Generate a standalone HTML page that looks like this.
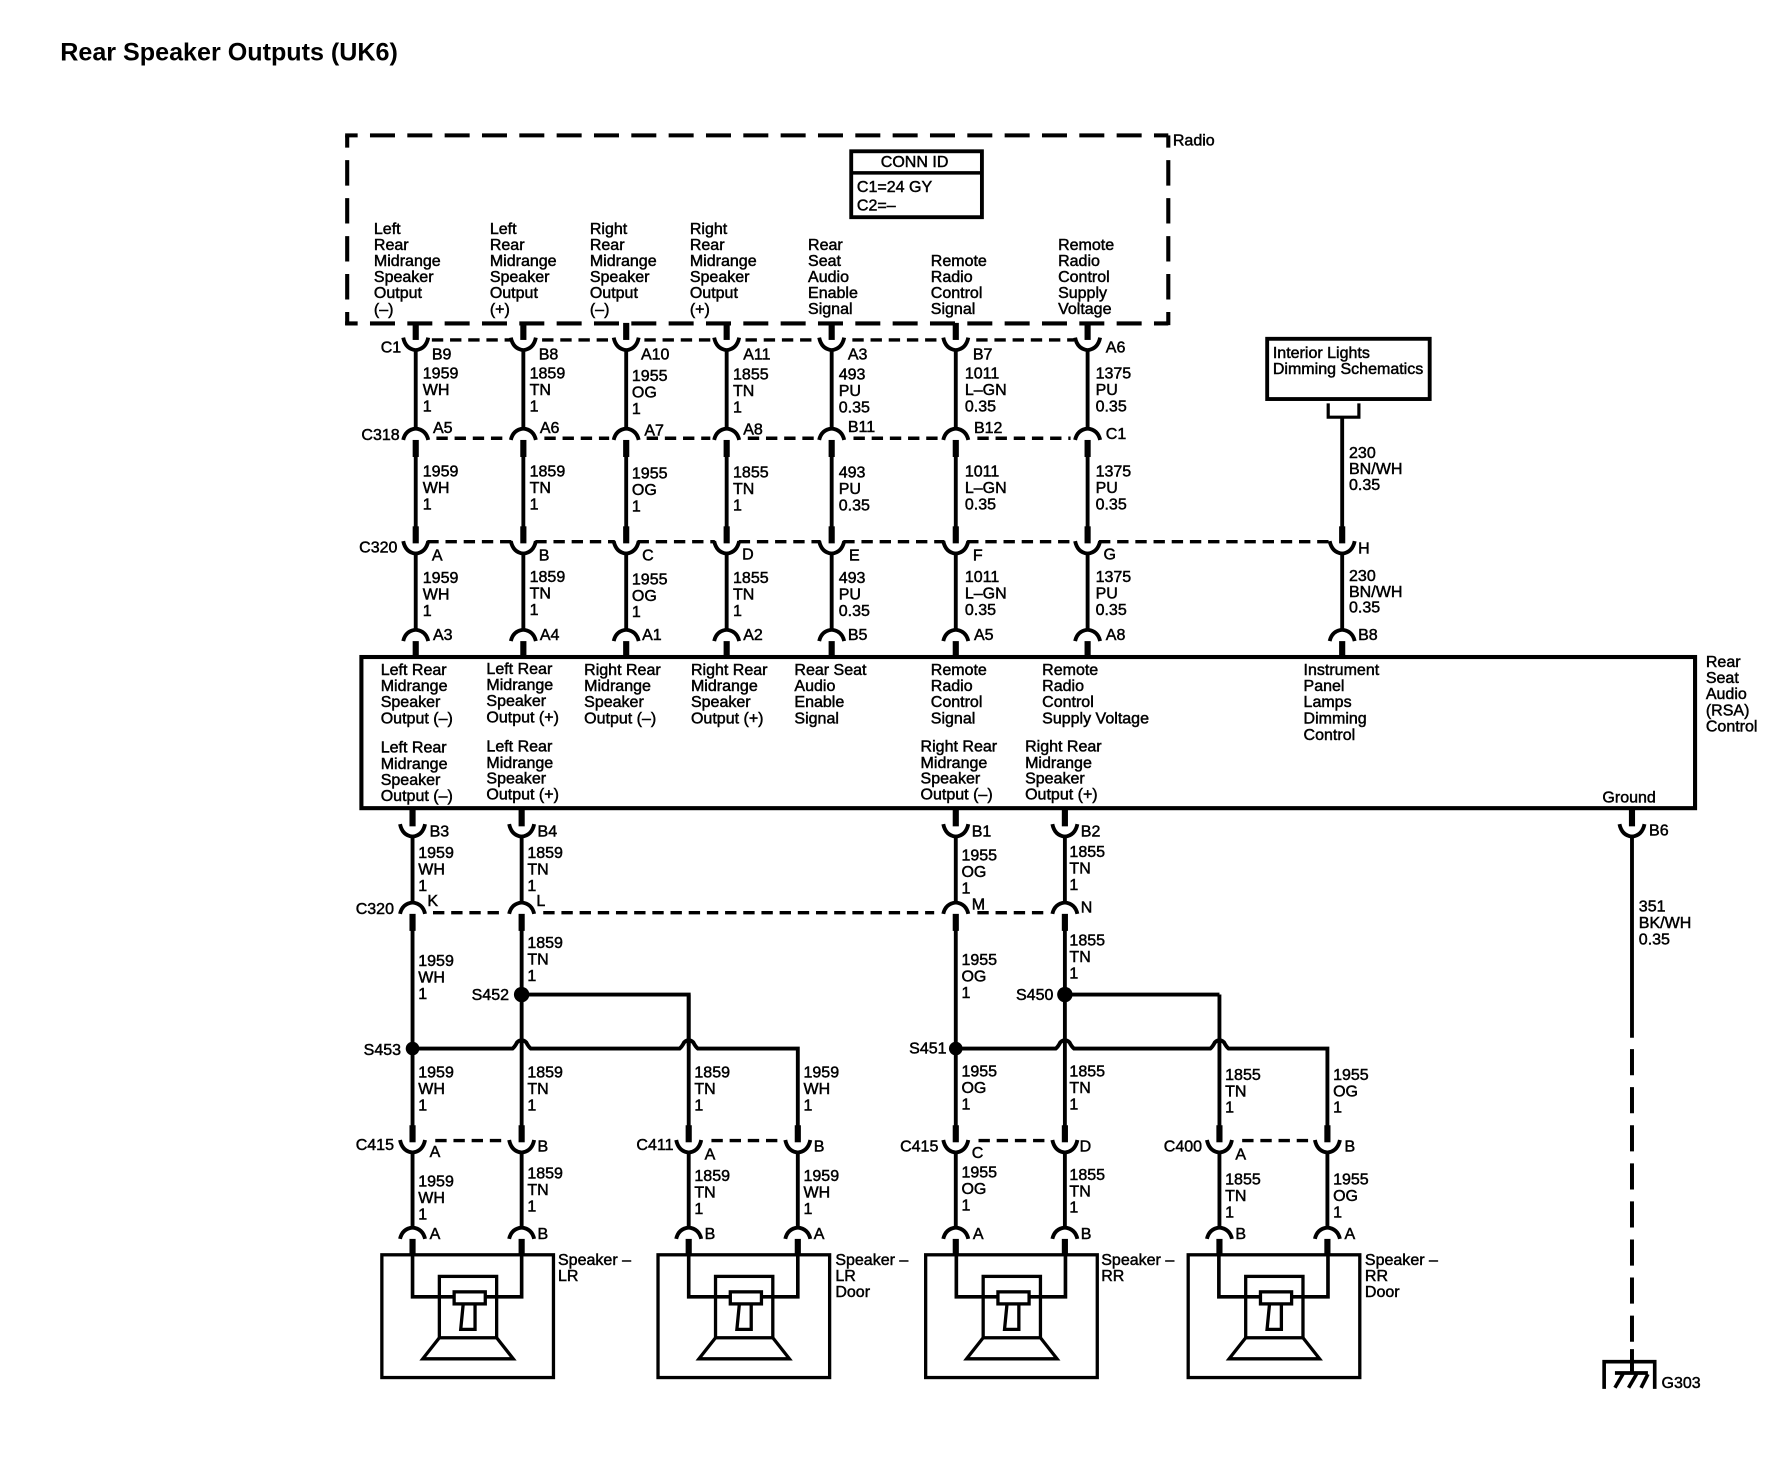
<!DOCTYPE html>
<html><head><meta charset="utf-8"><title>Rear Speaker Outputs (UK6)</title>
<style>
html,body{margin:0;padding:0;background:#fff;width:1782px;height:1472px;overflow:hidden}
svg{display:block}
text{font-family:"Liberation Sans",sans-serif;font-size:14.1px;fill:#000;stroke:#000;stroke-width:.42}
.w{fill:none;stroke:#000;stroke-width:3.4}
.d{fill:none;stroke:#000;stroke-width:3;stroke-dasharray:10 6}
.l{fill:none;stroke:#000;stroke-width:3.5;stroke-dasharray:23 10.5}
.r{fill:none;stroke:#000;stroke-width:3.6;stroke-dasharray:22 10.85;stroke-dashoffset:11}
.v{fill:none;stroke:#000;stroke-width:3.6;stroke-dasharray:22.4 11;stroke-dashoffset:11.6}
</style></head><body>
<svg width="1782" height="1472" viewBox="0 0 1568 1295" xmlns="http://www.w3.org/2000/svg">
<defs>
<g id="c"><rect x="-2.7" y="-14" width="5.4" height="15"/><path d="M-11,-1 Q-9,9 0,10 Q9,9 11,-1" fill="none" stroke="#000" stroke-width="3.4"/></g>
<g id="u"><path d="M-11,1 Q-9,-8 0,-9 Q9,-8 11,1" fill="none" stroke="#000" stroke-width="3.4"/><rect x="-2.7" y="1" width="5.4" height="15"/></g>
<g id="s" fill="none" stroke="#000" stroke-width="2.9">
<rect x="0" y="0" width="151" height="108"/>
<path d="M27,0 V37 H63.6 M123,0 V37 H91" stroke-width="3.2"/>
<rect x="50.6" y="19" width="50.4" height="54"/>
<rect x="63.6" y="32.6" width="27.4" height="10.6"/>
<path d="M71.6,43 L69.4,65.6 H82 V43"/>
<path d="M50.6,73 L36,91.5 H115.6 L101,73"/>
</g>
</defs>

<text x="53" y="53" style="font-size:22.1px;font-weight:bold;stroke-width:0">Rear Speaker Outputs (UK6)</text>

<!-- Radio -->
<path class="r" d="M303.7,119 H1028"/>
<path class="r" d="M303.7,284.5 H1028"/>
<path class="v" d="M305.5,119 V286"/>
<path class="v" d="M1028,119 V286"/>
<text x="1032" y="128">Radio</text>
<rect x="749" y="133" width="115" height="58" fill="none" stroke="#000" stroke-width="3.4"/>
<path d="M749,152 H864" stroke="#000" stroke-width="3"/>
<text x="775" y="147">CONN ID</text>
<text x="754" y="169">C1=24 GY</text>
<text x="754" y="185">C2=–</text>

<text y="206"><tspan x="329">Left</tspan><tspan x="329" dy="14">Rear</tspan><tspan x="329" dy="14">Midrange</tspan><tspan x="329" dy="14">Speaker</tspan><tspan x="329" dy="14">Output</tspan><tspan x="329" dy="14.5">(–)</tspan></text>
<text y="206"><tspan x="431">Left</tspan><tspan x="431" dy="14">Rear</tspan><tspan x="431" dy="14">Midrange</tspan><tspan x="431" dy="14">Speaker</tspan><tspan x="431" dy="14">Output</tspan><tspan x="431" dy="14.5">(+)</tspan></text>
<text y="206"><tspan x="519">Right</tspan><tspan x="519" dy="14">Rear</tspan><tspan x="519" dy="14">Midrange</tspan><tspan x="519" dy="14">Speaker</tspan><tspan x="519" dy="14">Output</tspan><tspan x="519" dy="14.5">(–)</tspan></text>
<text y="206"><tspan x="607">Right</tspan><tspan x="607" dy="14">Rear</tspan><tspan x="607" dy="14">Midrange</tspan><tspan x="607" dy="14">Speaker</tspan><tspan x="607" dy="14">Output</tspan><tspan x="607" dy="14.5">(+)</tspan></text>
<text y="220"><tspan x="711">Rear</tspan><tspan x="711" dy="14">Seat</tspan><tspan x="711" dy="14">Audio</tspan><tspan x="711" dy="14">Enable</tspan><tspan x="711" dy="14">Signal</tspan></text>
<text y="234"><tspan x="819">Remote</tspan><tspan x="819" dy="14">Radio</tspan><tspan x="819" dy="14">Control</tspan><tspan x="819" dy="14">Signal</tspan></text>
<text y="220"><tspan x="931">Remote</tspan><tspan x="931" dy="14">Radio</tspan><tspan x="931" dy="14">Control</tspan><tspan x="931" dy="14">Supply</tspan><tspan x="931" dy="14">Voltage</tspan></text>

<!-- Interior box -->
<rect x="1115" y="298" width="143" height="53" fill="none" stroke="#000" stroke-width="3.4"/>
<text y="315"><tspan x="1120">Interior Lights</tspan><tspan x="1120" dy="14">Dimming Schematics</tspan></text>
<path d="M1168.7,354.8 V367 H1195.7 V354.8" fill="none" stroke="#000" stroke-width="2.8"/>

<!-- dashed connector lines -->
<path class="d" d="M380,299 H449 M477,299 H539 M567,299 H627 M656,299 H720 M750,299 H829 M859,299 H945
M384,385.5 H446 M479,385.5 H536 M569,385.5 H625 M658,385.5 H717 M751,385.5 H826 M860,385.5 H942
M376,476.5 H450 M471,476.5 H541 M561,476.5 H629 M650,476.5 H722 M742,476.5 H831 M851,476.5 H947 M967,476.5 H1171
M381,803 H440 M478,803 H822 M860,803 H918
M383,1003.5 H445 M626,1003.5 H688 M861,1003.5 H923 M1093,1003.5 H1154"/>

<!-- thin wires -->
<path class="w" d="M365.8,307 V378 M365.8,400 V465 M365.8,486 V555
M460.5,307 V378 M460.5,400 V465 M460.5,486 V555
M551,307 V378 M551,400 V465 M551,486 V555
M639.4,307 V378 M639.4,400 V465 M639.4,486 V555
M731.8,307 V378 M731.8,400 V465 M731.8,486 V555
M841,307 V378 M841,400 V465 M841,486 V555
M957,307 V378 M957,400 V465 M957,486 V555
M1181,367 V465 M1181,486 V555
M363,735 V795 M363,815 V992 M363,1013 V1081
M459,735 V795 M459,815 V992 M459,1013 V1081
M841,735 V795 M841,815 V992 M841,1013 V1081
M937,735 V795 M937,815 V992 M937,1013 V1081
M606,875 V992 M606,1013 V1081
M702,1013 V1081
M1073,875 V992 M1073,1013 V1081
M1168,1013 V1081
M1436,735 V913"/>
<path class="w" d="M459,875 H606 V920 M937,875 H1073"/>
<path class="w" d="M363,922.5 H451 Q453,921 455,917 Q459,913.5 463,917 Q465,921 467,922.5 H598 Q600,921 602,917 Q606,913.5 610,917 Q612,921 614,922.5 H702 V992"/>
<path class="w" d="M841,922.5 H929 Q931,921 933,917 Q937,913.5 941,917 Q943,921 945,922.5 H1065 Q1067,921 1069,917 Q1073,913.5 1077,917 Q1079,921 1081,922.5 H1168 V992"/>
<circle cx="459" cy="875" r="6.8"/><circle cx="937" cy="875" r="6.8"/><circle cx="363" cy="922.5" r="6"/><circle cx="841" cy="922.5" r="6"/>

<!-- connectors -->
<use href="#c" x="365.8" y="298"/><use href="#c" x="460.5" y="298"/><use href="#c" x="551" y="298"/><use href="#c" x="639.4" y="298"/><use href="#c" x="731.8" y="298"/><use href="#c" x="841" y="298"/><use href="#c" x="957" y="298"/>
<use href="#u" x="365.8" y="386"/><use href="#u" x="460.5" y="386"/><use href="#u" x="551" y="386"/><use href="#u" x="639.4" y="386"/><use href="#u" x="731.8" y="386"/><use href="#u" x="841" y="386"/><use href="#u" x="957" y="386"/>
<use href="#c" x="365.8" y="477"/><use href="#c" x="460.5" y="477"/><use href="#c" x="551" y="477"/><use href="#c" x="639.4" y="477"/><use href="#c" x="731.8" y="477"/><use href="#c" x="841" y="477"/><use href="#c" x="957" y="477"/><use href="#c" x="1181" y="477"/>
<use href="#u" x="365.8" y="563"/><use href="#u" x="460.5" y="563"/><use href="#u" x="551" y="563"/><use href="#u" x="639.4" y="563"/><use href="#u" x="731.8" y="563"/><use href="#u" x="841" y="563"/><use href="#u" x="957" y="563"/><use href="#u" x="1181" y="563"/>
<use href="#c" x="363" y="726"/><use href="#c" x="459" y="726"/><use href="#c" x="841" y="726"/><use href="#c" x="937" y="726"/><use href="#c" x="1436" y="726"/>
<use href="#u" x="363" y="803"/><use href="#u" x="459" y="803"/><use href="#u" x="841" y="803"/><use href="#u" x="937" y="803"/>
<use href="#c" x="363" y="1004"/><use href="#c" x="459" y="1004"/><use href="#c" x="606" y="1004"/><use href="#c" x="702" y="1004"/><use href="#c" x="841" y="1004"/><use href="#c" x="937" y="1004"/><use href="#c" x="1073" y="1004"/><use href="#c" x="1168" y="1004"/>
<use href="#u" x="363" y="1089"/><use href="#u" x="459" y="1089"/><use href="#u" x="606" y="1089"/><use href="#u" x="702" y="1089"/><use href="#u" x="841" y="1089"/><use href="#u" x="937" y="1089"/><use href="#u" x="1073" y="1089"/><use href="#u" x="1168" y="1089"/>

<!-- RSA control box -->
<rect x="318" y="578" width="1173.5" height="133" fill="#fff" stroke="#000" stroke-width="3.6"/>
<text y="594"><tspan x="335">Left Rear</tspan><tspan x="335" dy="14">Midrange</tspan><tspan x="335" dy="14">Speaker</tspan><tspan x="335" dy="14.5">Output (–)</tspan></text>
<text y="593"><tspan x="428">Left Rear</tspan><tspan x="428" dy="14">Midrange</tspan><tspan x="428" dy="14">Speaker</tspan><tspan x="428" dy="14.5">Output (+)</tspan></text>
<text y="594"><tspan x="514">Right Rear</tspan><tspan x="514" dy="14">Midrange</tspan><tspan x="514" dy="14">Speaker</tspan><tspan x="514" dy="14.5">Output (–)</tspan></text>
<text y="594"><tspan x="608">Right Rear</tspan><tspan x="608" dy="14">Midrange</tspan><tspan x="608" dy="14">Speaker</tspan><tspan x="608" dy="14.5">Output (+)</tspan></text>
<text y="594"><tspan x="699">Rear Seat</tspan><tspan x="699" dy="14">Audio</tspan><tspan x="699" dy="14">Enable</tspan><tspan x="699" dy="14.5">Signal</tspan></text>
<text y="594"><tspan x="819">Remote</tspan><tspan x="819" dy="14">Radio</tspan><tspan x="819" dy="14">Control</tspan><tspan x="819" dy="14.5">Signal</tspan></text>
<text y="594"><tspan x="917">Remote</tspan><tspan x="917" dy="14">Radio</tspan><tspan x="917" dy="14">Control</tspan><tspan x="917" dy="14.5">Supply Voltage</tspan></text>
<text y="594"><tspan x="1147">Instrument</tspan><tspan x="1147" dy="14">Panel</tspan><tspan x="1147" dy="14">Lamps</tspan><tspan x="1147" dy="14.5">Dimming</tspan><tspan x="1147" dy="14.5">Control</tspan></text>
<text y="662"><tspan x="335">Left Rear</tspan><tspan x="335" dy="14.5">Midrange</tspan><tspan x="335" dy="14">Speaker</tspan><tspan x="335" dy="14">Output (–)</tspan></text>
<text y="661"><tspan x="428">Left Rear</tspan><tspan x="428" dy="14.5">Midrange</tspan><tspan x="428" dy="14">Speaker</tspan><tspan x="428" dy="14">Output (+)</tspan></text>
<text y="661"><tspan x="810">Right Rear</tspan><tspan x="810" dy="14.5">Midrange</tspan><tspan x="810" dy="14">Speaker</tspan><tspan x="810" dy="14">Output (–)</tspan></text>
<text y="661"><tspan x="902">Right Rear</tspan><tspan x="902" dy="14.5">Midrange</tspan><tspan x="902" dy="14">Speaker</tspan><tspan x="902" dy="14">Output (+)</tspan></text>
<text x="1410" y="706">Ground</text>
<text y="587"><tspan x="1501">Rear</tspan><tspan x="1501" dy="14">Seat</tspan><tspan x="1501" dy="14">Audio</tspan><tspan x="1501" dy="14.5">(RSA)</tspan><tspan x="1501" dy="14">Control</tspan></text>

<!-- pins -->
<text x="335" y="310">C1</text><text x="380" y="316">B9</text><text x="474" y="316">B8</text><text x="564" y="316">A10</text><text x="654" y="316">A11</text><text x="746" y="316">A3</text><text x="856" y="316">B7</text><text x="973" y="310">A6</text>
<text x="318" y="387">C318</text><text x="381" y="381">A5</text><text x="475" y="381">A6</text><text x="567" y="383">A7</text><text x="654" y="382">A8</text><text x="746" y="380">B11</text><text x="857" y="381">B12</text><text x="973" y="386">C1</text>
<text x="316" y="486">C320</text><text x="380" y="493">A</text><text x="474" y="493">B</text><text x="565" y="493">C</text><text x="653" y="492">D</text><text x="747" y="493">E</text><text x="856" y="493">F</text><text x="971" y="492">G</text><text x="1195" y="487">H</text>
<text x="381" y="563">A3</text><text x="475" y="563">A4</text><text x="565" y="563">A1</text><text x="654" y="563">A2</text><text x="746" y="563">B5</text><text x="857" y="563">A5</text><text x="973" y="563">A8</text><text x="1195" y="563">B8</text>
<text x="378" y="736">B3</text><text x="473" y="736">B4</text><text x="855" y="736">B1</text><text x="951" y="736">B2</text><text x="1451" y="735">B6</text>
<text x="313" y="804">C320</text><text x="376" y="797">K</text><text x="472" y="797">L</text><text x="855" y="800">M</text><text x="951" y="803">N</text>
<text x="415" y="880">S452</text><text x="320" y="928">S453</text><text x="800" y="927">S451</text><text x="894" y="880">S450</text>
<text x="313" y="1012">C415</text><text x="378" y="1018">A</text><text x="473" y="1013">B</text><text x="560" y="1012">C411</text><text x="620" y="1020">A</text><text x="716" y="1013">B</text><text x="792" y="1013">C415</text><text x="855" y="1019">C</text><text x="950" y="1013">D</text><text x="1024" y="1013">C400</text><text x="1087" y="1020">A</text><text x="1183" y="1013">B</text>
<text x="378" y="1090">A</text><text x="473" y="1090">B</text><text x="620" y="1090">B</text><text x="716" y="1090">A</text><text x="856" y="1090">A</text><text x="951" y="1090">B</text><text x="1087" y="1090">B</text><text x="1183" y="1090">A</text>

<!-- wire labels -->
<text y="333"><tspan x="372">1959</tspan><tspan x="372" dy="14.5">WH</tspan><tspan x="372" dy="14.5">1</tspan></text>
<text y="333"><tspan x="466">1859</tspan><tspan x="466" dy="14.5">TN</tspan><tspan x="466" dy="14.5">1</tspan></text>
<text y="335"><tspan x="556">1955</tspan><tspan x="556" dy="14.5">OG</tspan><tspan x="556" dy="14.5">1</tspan></text>
<text y="334"><tspan x="645">1855</tspan><tspan x="645" dy="14.5">TN</tspan><tspan x="645" dy="14.5">1</tspan></text>
<text y="334"><tspan x="738">493</tspan><tspan x="738" dy="14.5">PU</tspan><tspan x="738" dy="14.5">0.35</tspan></text>
<text y="333"><tspan x="849">1011</tspan><tspan x="849" dy="14.5">L–GN</tspan><tspan x="849" dy="14.5">0.35</tspan></text>
<text y="333"><tspan x="964">1375</tspan><tspan x="964" dy="14.5">PU</tspan><tspan x="964" dy="14.5">0.35</tspan></text>

<text y="419"><tspan x="372">1959</tspan><tspan x="372" dy="14.5">WH</tspan><tspan x="372" dy="14.5">1</tspan></text>
<text y="419"><tspan x="466">1859</tspan><tspan x="466" dy="14.5">TN</tspan><tspan x="466" dy="14.5">1</tspan></text>
<text y="421"><tspan x="556">1955</tspan><tspan x="556" dy="14.5">OG</tspan><tspan x="556" dy="14.5">1</tspan></text>
<text y="420"><tspan x="645">1855</tspan><tspan x="645" dy="14.5">TN</tspan><tspan x="645" dy="14.5">1</tspan></text>
<text y="420"><tspan x="738">493</tspan><tspan x="738" dy="14.5">PU</tspan><tspan x="738" dy="14.5">0.35</tspan></text>
<text y="419"><tspan x="849">1011</tspan><tspan x="849" dy="14.5">L–GN</tspan><tspan x="849" dy="14.5">0.35</tspan></text>
<text y="419"><tspan x="964">1375</tspan><tspan x="964" dy="14.5">PU</tspan><tspan x="964" dy="14.5">0.35</tspan></text>

<text y="513"><tspan x="372">1959</tspan><tspan x="372" dy="14.5">WH</tspan><tspan x="372" dy="14.5">1</tspan></text>
<text y="512"><tspan x="466">1859</tspan><tspan x="466" dy="14.5">TN</tspan><tspan x="466" dy="14.5">1</tspan></text>
<text y="514"><tspan x="556">1955</tspan><tspan x="556" dy="14.5">OG</tspan><tspan x="556" dy="14.5">1</tspan></text>
<text y="513"><tspan x="645">1855</tspan><tspan x="645" dy="14.5">TN</tspan><tspan x="645" dy="14.5">1</tspan></text>
<text y="513"><tspan x="738">493</tspan><tspan x="738" dy="14.5">PU</tspan><tspan x="738" dy="14.5">0.35</tspan></text>
<text y="512"><tspan x="849">1011</tspan><tspan x="849" dy="14.5">L–GN</tspan><tspan x="849" dy="14.5">0.35</tspan></text>
<text y="512"><tspan x="964">1375</tspan><tspan x="964" dy="14.5">PU</tspan><tspan x="964" dy="14.5">0.35</tspan></text>

<text y="403"><tspan x="1187">230</tspan><tspan x="1187" dy="14">BN/WH</tspan><tspan x="1187" dy="14">0.35</tspan></text>
<text y="511"><tspan x="1187">230</tspan><tspan x="1187" dy="14">BN/WH</tspan><tspan x="1187" dy="14">0.35</tspan></text>

<text y="755"><tspan x="368">1959</tspan><tspan x="368" dy="14.5">WH</tspan><tspan x="368" dy="14.5">1</tspan></text>
<text y="755"><tspan x="464">1859</tspan><tspan x="464" dy="14.5">TN</tspan><tspan x="464" dy="14.5">1</tspan></text>
<text y="757"><tspan x="846">1955</tspan><tspan x="846" dy="14.5">OG</tspan><tspan x="846" dy="14.5">1</tspan></text>
<text y="754"><tspan x="941">1855</tspan><tspan x="941" dy="14.5">TN</tspan><tspan x="941" dy="14.5">1</tspan></text>
<text y="802"><tspan x="1442">351</tspan><tspan x="1442" dy="14.5">BK/WH</tspan><tspan x="1442" dy="14.5">0.35</tspan></text>

<text y="850"><tspan x="368">1959</tspan><tspan x="368" dy="14.5">WH</tspan><tspan x="368" dy="14.5">1</tspan></text>
<text y="834"><tspan x="464">1859</tspan><tspan x="464" dy="14.5">TN</tspan><tspan x="464" dy="14.5">1</tspan></text>
<text y="849"><tspan x="846">1955</tspan><tspan x="846" dy="14.5">OG</tspan><tspan x="846" dy="14.5">1</tspan></text>
<text y="832"><tspan x="941">1855</tspan><tspan x="941" dy="14.5">TN</tspan><tspan x="941" dy="14.5">1</tspan></text>

<text y="948"><tspan x="368">1959</tspan><tspan x="368" dy="14.5">WH</tspan><tspan x="368" dy="14.5">1</tspan></text>
<text y="948"><tspan x="464">1859</tspan><tspan x="464" dy="14.5">TN</tspan><tspan x="464" dy="14.5">1</tspan></text>
<text y="948"><tspan x="611">1859</tspan><tspan x="611" dy="14.5">TN</tspan><tspan x="611" dy="14.5">1</tspan></text>
<text y="948"><tspan x="707">1959</tspan><tspan x="707" dy="14.5">WH</tspan><tspan x="707" dy="14.5">1</tspan></text>
<text y="947"><tspan x="846">1955</tspan><tspan x="846" dy="14.5">OG</tspan><tspan x="846" dy="14.5">1</tspan></text>
<text y="947"><tspan x="941">1855</tspan><tspan x="941" dy="14.5">TN</tspan><tspan x="941" dy="14.5">1</tspan></text>
<text y="950"><tspan x="1078">1855</tspan><tspan x="1078" dy="14.5">TN</tspan><tspan x="1078" dy="14.5">1</tspan></text>
<text y="950"><tspan x="1173">1955</tspan><tspan x="1173" dy="14.5">OG</tspan><tspan x="1173" dy="14.5">1</tspan></text>

<text y="1044"><tspan x="368">1959</tspan><tspan x="368" dy="14.5">WH</tspan><tspan x="368" dy="14.5">1</tspan></text>
<text y="1037"><tspan x="464">1859</tspan><tspan x="464" dy="14.5">TN</tspan><tspan x="464" dy="14.5">1</tspan></text>
<text y="1039"><tspan x="611">1859</tspan><tspan x="611" dy="14.5">TN</tspan><tspan x="611" dy="14.5">1</tspan></text>
<text y="1039"><tspan x="707">1959</tspan><tspan x="707" dy="14.5">WH</tspan><tspan x="707" dy="14.5">1</tspan></text>
<text y="1036"><tspan x="846">1955</tspan><tspan x="846" dy="14.5">OG</tspan><tspan x="846" dy="14.5">1</tspan></text>
<text y="1038"><tspan x="941">1855</tspan><tspan x="941" dy="14.5">TN</tspan><tspan x="941" dy="14.5">1</tspan></text>
<text y="1042"><tspan x="1078">1855</tspan><tspan x="1078" dy="14.5">TN</tspan><tspan x="1078" dy="14.5">1</tspan></text>
<text y="1042"><tspan x="1173">1955</tspan><tspan x="1173" dy="14.5">OG</tspan><tspan x="1173" dy="14.5">1</tspan></text>

<!-- speakers -->
<use href="#s" x="336" y="1104"/><use href="#s" x="579" y="1104"/><use href="#s" x="814.5" y="1104"/><use href="#s" x="1045.5" y="1104"/>
<text y="1113"><tspan x="491">Speaker –</tspan><tspan x="491" dy="14">LR</tspan></text>
<text y="1113"><tspan x="735">Speaker –</tspan><tspan x="735" dy="14">LR</tspan><tspan x="735" dy="14">Door</tspan></text>
<text y="1113"><tspan x="969">Speaker –</tspan><tspan x="969" dy="14">RR</tspan></text>
<text y="1113"><tspan x="1201">Speaker –</tspan><tspan x="1201" dy="14">RR</tspan><tspan x="1201" dy="14">Door</tspan></text>

<!-- ground -->
<path class="l" d="M1436,923 V1187"/>
<path d="M1436,1187 V1208" stroke="#000" stroke-width="3.5"/>
<path d="M1411.5,1222 V1198 H1456 V1222" fill="none" stroke="#000" stroke-width="3.2"/>
<path d="M1421,1208 H1450 M1428,1209 L1421,1221 M1440,1209 L1433,1221 M1450,1209 L1444,1221" fill="none" stroke="#000" stroke-width="3.2"/>
<text x="1462" y="1221">G303</text>
</svg>
</body></html>
